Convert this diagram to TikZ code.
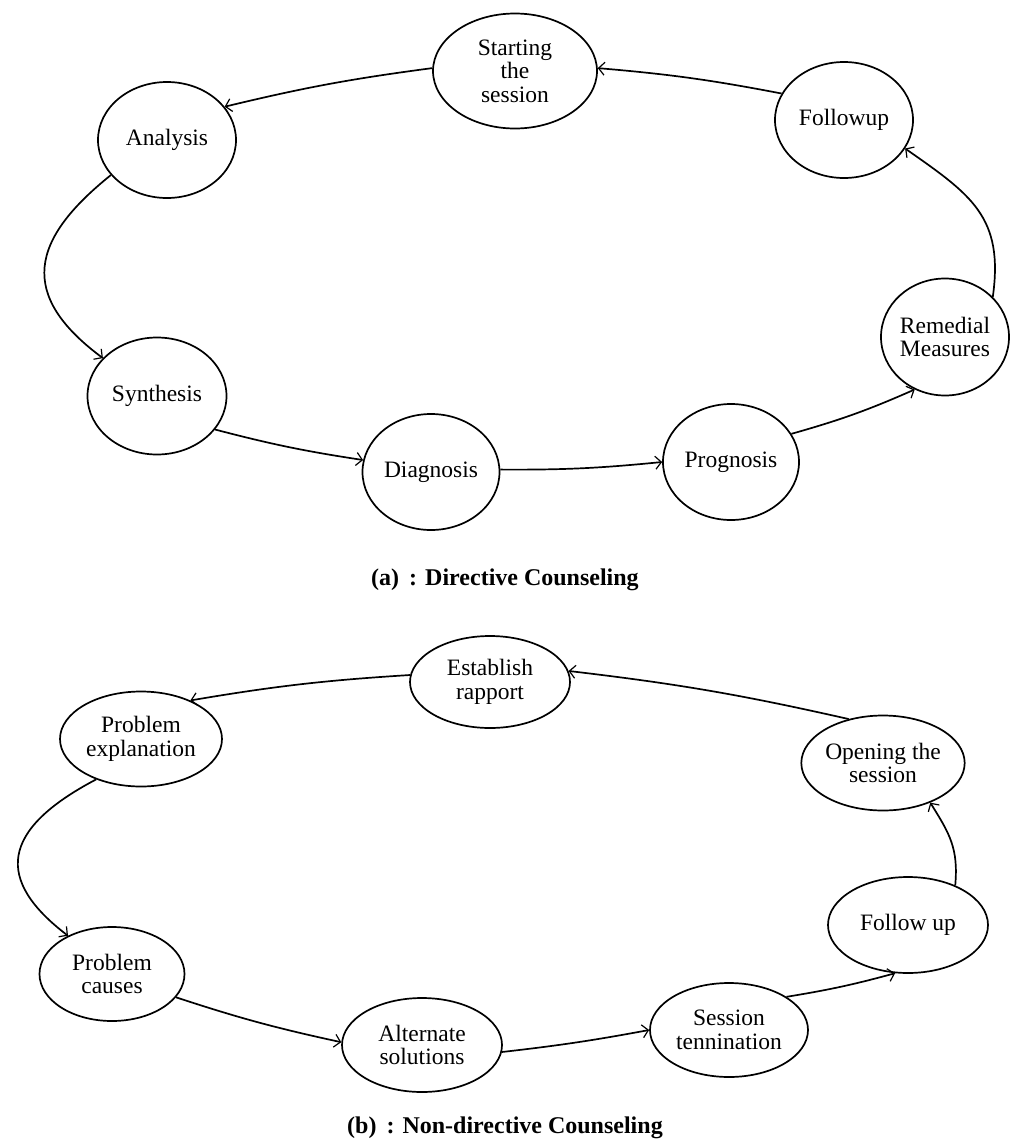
\documentclass[tikz,border=0pt]{standalone}
\usepackage{fontspec}
\setmainfont{Liberation Serif}
\usetikzlibrary{shapes.geometric,arrows.meta}
\begin{document}
\begin{tikzpicture}[x=1pt,y=-1pt,
  stage/.style={ellipse,draw,line width=1.7pt,inner sep=0pt,align=center,
    font=\fontsize{23.5}{23.5}\selectfont},
  flow/.style={line width=1.7pt,
    -{Straight Barb[length=6pt,width=13pt,line width=1.2pt]}},
  caption/.style={font=\fontsize{24}{26}\selectfont\bfseries}]
\useasboundingbox (0,0) rectangle (1010,1146);

% (a) Directive counseling
\node[stage,minimum width=164pt,minimum height=115pt] (st) at (515,71) {Starting\\the\\session};
\node[stage,minimum width=138pt,minimum height=116pt] (fu) at (844,120) {Followup};
\node[stage,minimum width=138pt,minimum height=116pt] (an) at (167,140) {Analysis};
\node[stage,minimum width=139pt,minimum height=117pt] (sy) at (157,396) {Synthesis};
\node[stage,minimum width=137pt,minimum height=116pt] (di) at (431,472) {Diagnosis};
\node[stage,minimum width=136pt,minimum height=116pt] (pr) at (731,462) {Prognosis};
\node[stage,minimum width=128pt,minimum height=117pt] (rm) at (945,337) {Remedial\\Measures};

\draw[flow] (fu.157) to[bend right=3] (st.2);
\draw[flow] (st.178) to[bend right=3] (an.30);
\draw[flow] (an.212) .. controls (30,240) and (18,295) .. (sy.145);
\draw[flow] (sy.-30) to[bend right=3] (di.170);
\draw[flow] (di.2) to[bend right=3] (pr.180);
\draw[flow] (pr.25) to[bend right=4] (rm.240);
\draw[flow] (rm.40) to[out=82,in=-35,looseness=1.2] (fu.-25);

\node[caption] (capa) at (505,580) {(a)\, : Directive Counseling};

% (b) Non-directive counseling
\node[stage,minimum width=160pt,minimum height=92pt] (er) at (490,682) {Establish\\rapport};
\node[stage,minimum width=160pt,minimum height=95pt] (op) at (883,763) {Opening the\\session};
\node[stage,minimum width=162pt,minimum height=95pt] (pe) at (141,739) {Problem\\explanation};
\node[stage,minimum width=145pt,minimum height=94pt] (pc) at (112,974) {Problem\\causes};
\node[stage,minimum width=160pt,minimum height=94pt] (as) at (422,1045) {Alternate\\solutions};
\node[stage,minimum width=158pt,minimum height=94pt] (sm) at (729,1030) {Session\\tennination};
\node[stage,minimum width=160pt,minimum height=96pt] (fo) at (908,925) {Follow up};

\draw[flow] (op.128) to[bend right=3] (er.8);
\draw[flow] (er.175) to[bend right=3] (pe.38);
\draw[flow] (pe.222) .. controls (0,830) and (-5,880) .. (pc.139);
\draw[flow] (pc.-20) to[bend right=3] (as.178);
\draw[flow] (as.-5) to[bend right=2] (sm.180);
\draw[flow] (sm.30) to[bend right=3] (fo.255);
\draw[flow] (fo.40) to[out=85,in=-58,looseness=1.1] (op.-40);

\node[caption] (capb) at (505,1128) {(b)\, : Non-directive Counseling};
\end{tikzpicture}
\end{document}
